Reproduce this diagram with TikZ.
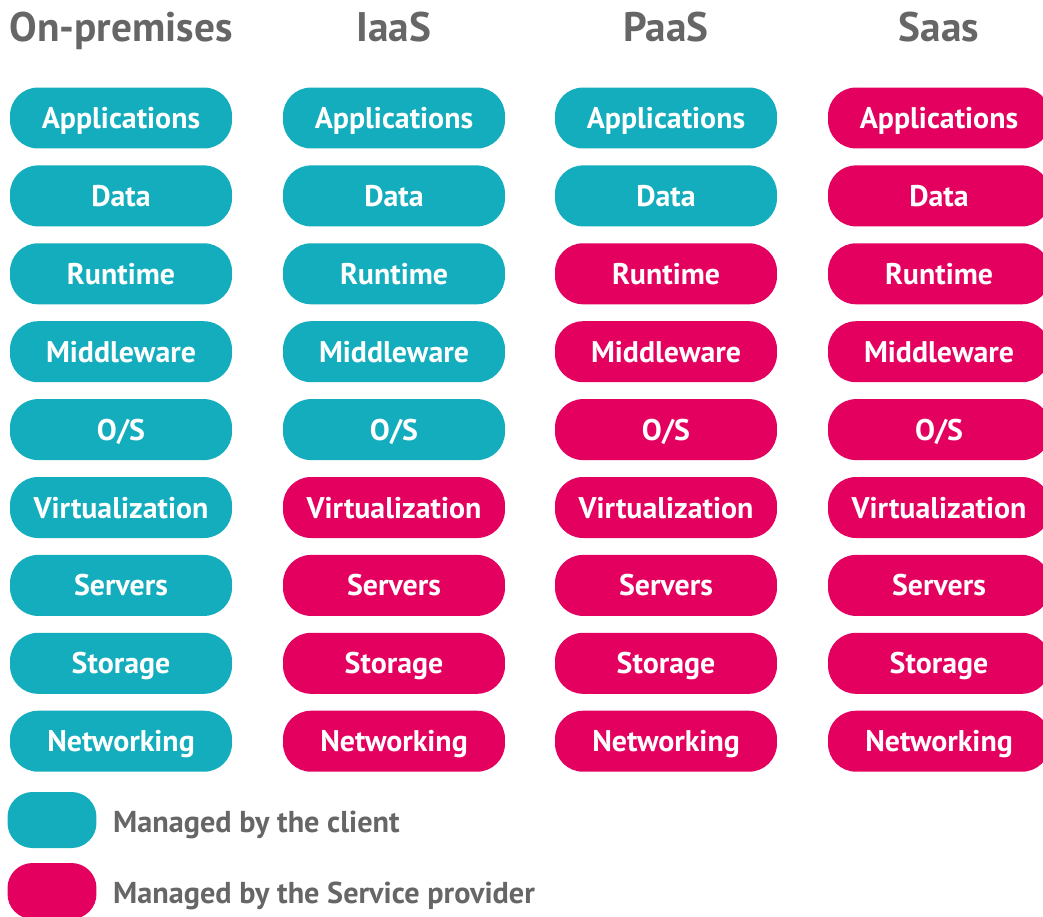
\documentclass[tikz,border=0pt]{standalone}
\usepackage{fontspec}
\setmainfont{PT Sans}
\usepackage{tikz}
\usetikzlibrary{positioning}
\definecolor{client}{HTML}{13ADBD}
\definecolor{provider}{HTML}{E3005F}
\definecolor{muted}{HTML}{666666}
\tikzset{
  pill/.style={rounded corners=0.56cm, minimum width=4.44cm, minimum height=1.22cm,
    inner sep=0pt, text height=0.42cm, text depth=0pt, text=white,
    font=\fontsize{17}{20}\selectfont\bfseries},
  own/.style={pill, fill=client},
  prov/.style={pill, fill=provider},
  key/.style={rounded corners=0.5cm, minimum width=1.78cm, minimum height=1.12cm, inner sep=0pt},
  head/.style={text=muted, anchor=base, font=\fontsize{23.5}{28}\selectfont\bfseries},
  keytext/.style={text=muted, inner sep=0pt, text height=0.42cm, text depth=0pt,
    font=\fontsize{17.2}{20}\selectfont\bfseries},
}
\begin{document}
\begin{tikzpicture}[x=0.02cm,y=-0.02cm]
  \clip (0,0) rectangle (1043,916);
  \foreach \c/\x/\name in {1/121/On-premises,2/394/IaaS,3/666/PaaS,4/939/Saas}
    \node[head] (h\c) at (\x,41) {\name};
  % \n = layers still run by the client
  \foreach \c/\x/\n in {1/121/9,2/394/5,3/666/2,4/939/0}{
    \foreach \lay [count=\r] in {Applications,Data,Runtime,Middleware,O/S,Virtualization,Servers,Storage,Networking}{
      \ifnum\r>\n \def\sty{prov}\else \def\sty{own}\fi
      \node[\sty] (c\c r\r) at (\x,{118+77.9*(\r-1)}) {\lay};
    }
  }
  \node[key, fill=client] (kc) at (52,820) {};
  \node[key, fill=provider] (kp) at (52,891) {};
  \node[keytext, right=0.32cm of kc, yshift=-0.04cm] (kct) {Managed by the client};
  \node[keytext, right=0.32cm of kp, yshift=-0.04cm] (kpt) {Managed by the Service provider};
\end{tikzpicture}
\end{document}
